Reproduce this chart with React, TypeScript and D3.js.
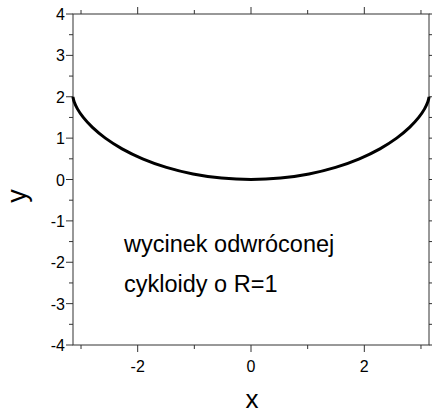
import React from "react";
import * as d3 from "d3";

const curveX = [-3.1416, -3.1386, -3.118, -3.0633, -2.9604, -2.7985, -2.5708, -2.2749, -1.9132, -1.4925, -1.0236, -0.5206, 0, 0.5206, 1.0236, 1.4925, 1.9132, 2.2749, 2.5708, 2.7985, 2.9604, 3.0633, 3.118, 3.1386, 3.1416];
const curveY = [2, 1.9659, 1.866, 1.7071, 1.5, 1.2588, 1, 0.7412, 0.5, 0.2929, 0.134, 0.0341, 0, 0.0341, 0.134, 0.2929, 0.5, 0.7412, 1, 1.2588, 1.5, 1.7071, 1.866, 1.9659, 2];
const xMajorTicks = [-2, 0, 2];
const xMinorTicks = [-3, -1, 1, 3];
const yMajorTicks = [-4, -3, -2, -1, 0, 1, 2, 3, 4];
const yMinorTicks = [-3.5, -2.5, -1.5, -0.5, 0.5, 1.5, 2.5, 3.5];
const annotation = ["wycinek odwróconej", "cykloidy o R=1"];

const W = 432, H = 415;
const L = 73, R = 429, T = 14, B = 345;
const font = "'Liberation Sans', Arial, sans-serif";

export default function App() {
  const x = d3.scaleLinear().domain([-Math.PI, Math.PI]).range([L, R]);
  const y = d3.scaleLinear().domain([-4, 4]).range([B, T]);
  const pts = curveX.map((v, i) => [v, curveY[i]] as [number, number]);
  const line = d3.line<[number, number]>().x(d => x(d[0])).y(d => y(d[1])).curve(d3.curveCatmullRom);
  const ax = "#333";
  return (
    <svg width={W} height={H} style={{ position: "absolute", left: 0, top: 0 }} fontFamily={font}>
      <rect x={0} y={0} width={W} height={H} fill="#fff" />
      <rect x={L} y={T} width={R - L} height={B - T} fill="none" stroke={ax} strokeWidth={1} />
      {xMajorTicks.map(t => (
        <g key={"xm" + t}>
          <line x1={x(t)} x2={x(t)} y1={B} y2={B + 7} stroke={ax} />
          <line x1={x(t)} x2={x(t)} y1={T} y2={T - 7} stroke={ax} />
          <text x={x(t)} y={B + 27} textAnchor="middle" fontSize={16} fill="#000">{t}</text>
        </g>
      ))}
      {xMinorTicks.map(t => (
        <g key={"xn" + t}>
          <line x1={x(t)} x2={x(t)} y1={B} y2={B + 4} stroke={ax} />
          <line x1={x(t)} x2={x(t)} y1={T} y2={T - 4} stroke={ax} />
        </g>
      ))}
      {yMajorTicks.map(t => (
        <g key={"ym" + t}>
          <line x1={L} x2={L - 7} y1={y(t)} y2={y(t)} stroke={ax} />
          <line x1={R} x2={R + 7} y1={y(t)} y2={y(t)} stroke={ax} />
          <text x={L - 8} y={y(t) + 6} textAnchor="end" fontSize={16} fill="#000">{t}</text>
        </g>
      ))}
      {yMinorTicks.map(t => (
        <g key={"yn" + t}>
          <line x1={L} x2={L - 4} y1={y(t)} y2={y(t)} stroke={ax} />
          <line x1={R} x2={R + 4} y1={y(t)} y2={y(t)} stroke={ax} />
        </g>
      ))}
      <path d={line(pts) || ""} fill="none" stroke="#000" strokeWidth={3} />
      <text x={124} y={252} fontSize={23.5} fill="#000">{annotation[0]}</text>
      <text x={124} y={292} fontSize={23.5} fill="#000">{annotation[1]}</text>
      <text x={(L + R) / 2 + 1} y={408} textAnchor="middle" fontSize={26} fill="#000">x</text>
      <text transform={`translate(26, 196) rotate(-90)`} textAnchor="middle" fontSize={27} fill="#000">y</text>
    </svg>
  );
}
